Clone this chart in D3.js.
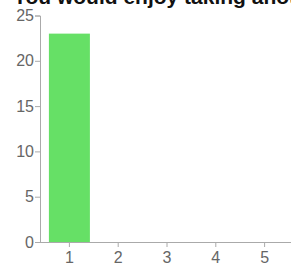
<!DOCTYPE html>
<html>
<head>
<meta charset="utf-8">
<script src="https://cdn.jsdelivr.net/npm/d3@7"></script>
<style>
  html, body { margin: 0; padding: 0; background: #fff; overflow: hidden; }
  svg { display: block; }
</style>
</head>
<body>
<div id="chart"></div>
<script>
const title = "You would enjoy taking another class like this";
const categories = ["1", "2", "3", "4", "5"];
const counts = [23, 0, 0, 0, 0];
const yTicks = [0, 5, 10, 15, 20, 25];

const width = 291, height = 270;

const svg = d3.select('#chart')
  .append('svg')
  .attr('width', width)
  .attr('height', height);

const x = d3.scaleBand()
  .domain(categories)
  .range([45, 289])
  .paddingInner(0.16)
  .paddingOuter(0.08);

const y = d3.scaleLinear()
  .domain([0, 25])
  .range([242, 15.5]);

// title, clipped by the top edge like the original
svg.append('text')
  .attr('x', 13)
  .attr('y', 4)
  .style('font-family', 'Liberation Sans, Arial, sans-serif')
  .style('font-weight', 'bold')
  .style('font-size', '21px')
  .attr('fill', '#111')
  .text(title);

svg.selectAll('rect.bar')
  .data(counts)
  .join('rect')
  .attr('class', 'bar')
  .attr('x', (d, i) => x(categories[i]))
  .attr('y', d => y(d))
  .attr('width', x.bandwidth())
  .attr('height', d => y(0) - y(d))
  .attr('fill', '#66e066');

const yAxis = svg.append('g')
  .attr('transform', 'translate(40,0)')
  .call(d3.axisLeft(y).tickValues(yTicks).tickSize(5).tickPadding(1));

const xAxis = svg.append('g')
  .attr('transform', `translate(0,${y(0)})`)
  .call(d3.axisBottom(x).tickSize(5).tickPadding(5));

xAxis.select('.domain').attr('d', `M40,0.5H${width}`);

[yAxis, xAxis].forEach(g => {
  g.selectAll('.domain, .tick line').attr('stroke', '#aaa');
  g.selectAll('text')
    .attr('fill', '#666')
    .style('font-family', 'Liberation Sans, Arial, sans-serif')
    .style('font-size', '16px');
});
</script>
</body>
</html>
